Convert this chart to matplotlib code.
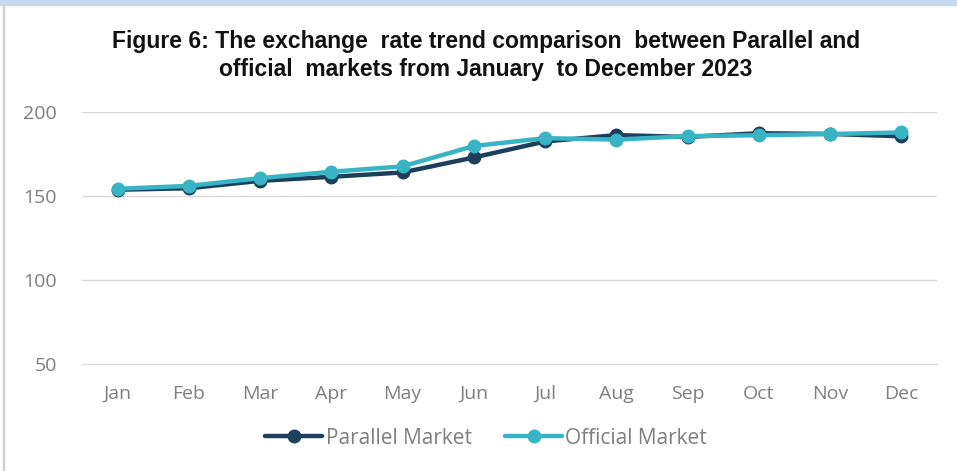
import matplotlib
matplotlib.use("Agg")
import matplotlib.pyplot as plt
from matplotlib.patches import Rectangle

months = ["Jan", "Feb", "Mar", "Apr", "May", "Jun", "Jul", "Aug", "Sep", "Oct", "Nov", "Dec"]
parallel = [153.6, 154.5, 158.9, 161.3, 163.9, 172.8, 182.3, 186.1, 185.0, 187.2, 186.8, 185.4]
official = [154.2, 155.9, 160.5, 164.3, 167.5, 179.6, 184.3, 183.4, 185.5, 186.0, 186.7, 187.7]
yticks = [50, 100, 150, 200]

title = ("Figure 6: The exchange  rate trend comparison  between Parallel and\n"
         "official  markets from January  to December 2023")

sans = ["Open Sans", "DejaVu Sans"]

fig = plt.figure(figsize=(9.57, 4.71), dpi=100)
fig.patches.append(Rectangle((0, 0.99), 1, 0.01, transform=fig.transFigure,
                             color="#c5d9ef", zorder=0))
fig.patches.append(Rectangle((0.003, 0), 0.0015, 0.99, transform=fig.transFigure,
                             color="#d0d0d0", zorder=0))

ax = fig.add_axes([0.0857, 0.2272, 0.8933, 0.5356])
x = range(len(months))
ax.plot(x, parallel, color="#1d3f5e", lw=3.2, marker="o", ms=9, label="Parallel Market",
        solid_capstyle="round", zorder=3)
ax.plot(x, official, color="#38b4c5", lw=3.2, marker="o", ms=9, label="Official Market",
        solid_capstyle="round", zorder=4)

ax.set_xlim(-0.5, len(months) - 0.5)
ax.set_ylim(50, 200)
ax.set_yticks(yticks)
ax.set_xticks(list(x))
ax.set_xticklabels(months)
ax.grid(axis="y", color="#d9d9d9", lw=1)
ax.set_axisbelow(True)
for s in ["top", "right", "left"]:
    ax.spines[s].set_visible(False)
ax.spines["bottom"].set_color("#d9d9d9")
ax.tick_params(length=0, labelcolor="#7f7f7f")
ax.tick_params(axis="x", pad=15)
ax.tick_params(axis="y", pad=18)
for lab in ax.get_xticklabels() + ax.get_yticklabels():
    lab.set_family(sans)
    lab.set_fontsize(14)

fig.text(0.508, 0.882, title, ha="center", va="center", fontsize=16.5, fontweight="bold",
         family=["Liberation Sans", "DejaVu Sans"], linespacing=1.3, color="#111111")

leg = fig.legend(loc="center", bbox_to_anchor=(0.508, 0.07), ncol=2, frameon=False,
                 handlelength=2.75, handletextpad=0.15, columnspacing=1.6,
                 prop={"family": sans, "size": 15})
for t in leg.get_texts():
    t.set_color("#7f7f7f")

fig.savefig("out.png", dpi=100)
